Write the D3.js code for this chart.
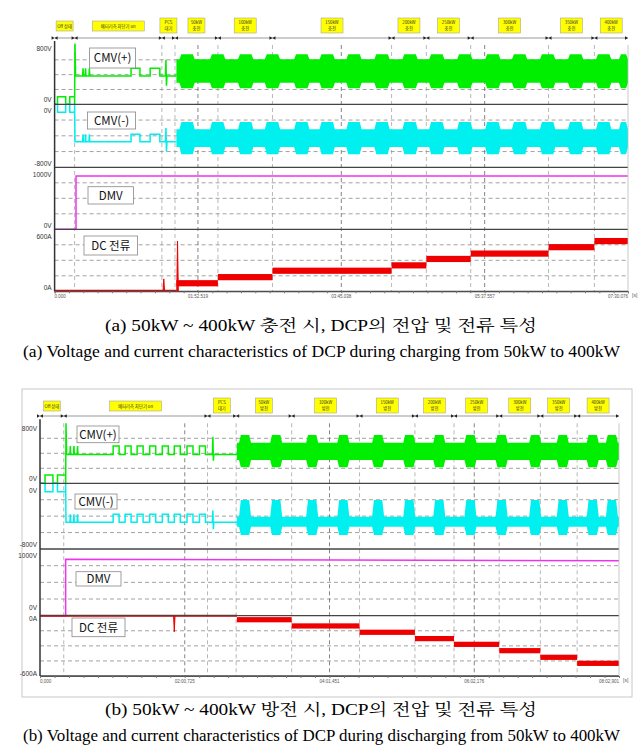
<!DOCTYPE html>
<html><head><meta charset="utf-8">
<script src="https://cdn.jsdelivr.net/npm/d3@7"></script>
<style>body{margin:0;background:#fff}svg{display:block}</style>
</head><body>
<script>
// ---------------- DATA ----------------
// Panel (a) charging
const aDuration = 450.076;
const aTickLabels = ["0.000","01:52.519","03:45.038","05:37.557","07:30.076"];
const aPhases = ["Off 상태","배터리측 차단기 on","PCS|대기","50kW|충전","100kW|충전","150kW|충전","200kW|충전","250kW|충전","300kW|충전","350kW|충전","400kW|충전"];
const aBounds = [15.7, 84.2, 94.5, 128.2, 171, 264.5, 291.8, 326.6, 387.7, 423.7];
const aCurrentLevels = [78,137,199,251,313,365,427,486];
const aBumps = [104,128,150,171,194,214,235,257,279,300,322,344,365,387,409,431,449];
const aBandStart = 95.6;
const aGreenEnv = [675,607,291,216];
const aCyanEnv = [-225,-317,-542,-635];
const aOffPulses = [[2.3,8.7],[11.9,15.7]];
const aSpikes = [22,24,27];
const aPulses = [[60,67],[75,82.6]];
const aOnTime = 15.7, aPcsTime = 87;
const aGreenLv = [103,382,486,820,600,250];
const aCyanLv = [-100,-474,-381,-474,-300,-600];
const aDmv = [[0,0],[16.8,0],[16.8,860],[450,860]];
const aCurSpikes = [[85.7,120],[96.5,486]];

// Panel (b) discharging
const bDuration = 482.901;
const bTickLabels = ["0,000","02:00,725","04:01,451","06:02,176","08:02,901"];
const bPhases = ["Off 상태","배터리측 차단기 on","PCS|대기","50kW|방전","100kW|방전","150kW|방전","200kW|방전","250kW|방전","300kW|방전","350kW|방전","400kW|방전"];
const bBounds = [19.8, 139.7, 163.6, 209.9, 266.5, 312.7, 345.3, 383, 417.3, 448];
const bCurrentLevels = [-40,-102,-165,-228,-285,-348,-414,-474];
const bBumps = [171,197,227,253,282,308,333,359,385,413,436,461,477];
const bBandStart = 164.2;
const bGreenEnv = [645,541,311,213];
const bCyanEnv = [-203,-407,-528,-630];
const bOffPulses = [[4.2,10.8],[14.6,21.4]];
const bSpikes = [25,28,31];
const bPulses = [[61,66],[71,76],[81,86],[91.5,96.5],[102,107],[112,117],[122.6,127.6],[133,138]];
const bOnTime = 21.4, bPcsTime = 143.8;
const bGreenLv = [111,385,497,800,620,300];
const bCyanLv = [-102,-475,-378,-475,-330,-560];
const bDmv = [[0,0],[21.4,0],[21.4,848],[482.9,823]];
const bCurSpikes = [[112,-160]];

// ---------------- DRAW ----------------
const W=641,H=754;
const svg=d3.select("body").append("svg").attr("width",W).attr("height",H);
const FONT="'Liberation Sans',Arial,sans-serif";

function preamble(offP,onT,spikes,pulses,pcsT,bandStart,lv){
  const p=[[0,0]];
  offP.forEach(([s,e])=>{p.push([s,0],[s,lv[0]],[e,lv[0]],[e,0]);});
  p.push([onT,0],[onT+0.3,lv[3]],[onT+0.8,lv[1]]);
  spikes.forEach(s=>{p.push([s,lv[1]],[s+0.3,lv[2]],[s+0.6,lv[1]]);});
  pulses.forEach(([s,e])=>{p.push([s,lv[1]],[s,lv[2]],[e,lv[2]],[e,lv[1]]);});
  p.push([pcsT,lv[1]],[pcsT+0.4,lv[4]],[pcsT+0.8,lv[5]],[pcsT+1.2,lv[1]],[bandStart,lv[1]]);
  return p;
}
function band(start,end,bumps,env,w){
  const pts=[];const r=1.5;
  pts.push({t:start,y1:env[1],y0:env[2]});
  bumps.forEach(c=>{
    const s=Math.max(start,c-w/2), e=Math.min(end,c+w/2);
    pts.push({t:s,y1:env[1],y0:env[2]},{t:s+r,y1:env[0],y0:env[3]},{t:e-r,y1:env[0],y0:env[3]},{t:Math.min(end,e),y1:env[1],y0:env[2]});
  });
  pts.push({t:end,y1:env[1],y0:env[2]});
  return pts.sort((a,b)=>a.t-b.t);
}

function drawPanel(c){
  const g=svg.append("g");
  const x=d3.scaleLinear().domain([0,c.dur]).range([c.x0,c.x1]);
  const yP=d3.scaleLinear().domain([0,800]).range([c.rows[1],c.rows[0]]);
  const yN=d3.scaleLinear().domain([0,-800]).range([c.rows[1],c.rows[2]]);
  const yD=d3.scaleLinear().domain([0,1000]).range([c.rows[3],c.rows[2]]);
  const yC=c.charge?d3.scaleLinear().domain([0,600]).range([c.rows[4],c.rows[3]])
                   :d3.scaleLinear().domain([0,-600]).range([c.rows[3],c.rows[4]]);
  for(let i=0;i<4;i++){
    const top=c.rows[i],bot=c.rows[i+1];
    for(let k=1;k<4;k++){const yy=top+(bot-top)*k/4;
      g.append("line").attr("x1",c.x0).attr("x2",c.x1).attr("y1",yy).attr("y2",yy)
       .attr("stroke","#8a8a8a").attr("stroke-width",0.8).attr("stroke-dasharray","4,3");}
  }
  const majors=d3.range(5).map(i=>c.dur*i/4);
  c.bounds.forEach(b=>g.append("line").attr("x1",x(b)).attr("x2",x(b)).attr("y1",c.rows[0]).attr("y2",c.rows[4])
     .attr("stroke","#9a9a9a").attr("stroke-width",0.7).attr("stroke-dasharray","4,3"));
  majors.slice(1,4).forEach(m=>g.append("line").attr("x1",x(m)).attr("x2",x(m)).attr("y1",c.rows[0]).attr("y2",c.rows[4])
     .attr("stroke","#666").attr("stroke-width",0.8).attr("stroke-dasharray","4,3"));
  const line=(ys)=>d3.line().x(d=>x(d[0])).y(d=>ys(d[1]));
  const area=(ys)=>d3.area().x(d=>x(d.t)).y0(d=>ys(d.y0)).y1(d=>ys(d.y1));
  g.append("path").attr("d",line(yP)(preamble(c.offP,c.onT,c.spikes,c.pulses,c.pcsT,c.bandStart,c.gLv)))
    .attr("fill","none").attr("stroke","#00ee00").attr("stroke-width",1.5);
  g.append("path").attr("d",area(yP)(band(c.bandStart,c.dur,c.bumps,c.gEnv,c.bw))).attr("fill","#00ee00");
  g.append("path").attr("d",line(yN)(preamble(c.offP,c.onT,c.spikes,c.pulses,c.pcsT,c.bandStart,c.cLv)))
    .attr("fill","none").attr("stroke","#00eeee").attr("stroke-width",1.5);
  g.append("path").attr("d",area(yN)(band(c.bandStart,c.dur,c.bumps,c.cEnv,c.bw))).attr("fill","#00f0f0");
  g.append("path").attr("d",line(yD)(c.dmv)).attr("fill","none").attr("stroke","#ee33ee").attr("stroke-width",1.5);
  const starts=[c.bandStart].concat(c.bounds.slice(3));
  const ends=c.bounds.slice(3).concat([c.dur]);
  g.append("path").attr("d",line(yC)([[0,c.charge?5:0],[c.bandStart,c.charge?5:0]])).attr("stroke","#ee0000").attr("stroke-width",2).attr("fill","none");
  c.curLv.forEach((v,i)=>{
    const th=c.charge?30:26;
    g.append("rect").attr("x",x(starts[i])).attr("width",x(ends[i])-x(starts[i]))
     .attr("y",Math.min(yC(v+th),yC(v-th))).attr("height",Math.abs(yC(v-th)-yC(v+th))).attr("fill","#ee0000");
  });
  c.curSp.forEach(([t,v])=>g.append("path").attr("d",line(yC)([[t-0.6,0],[t,v],[t+0.6,0]])).attr("stroke","#ee0000").attr("fill","#ee0000").attr("stroke-width",1));
  c.rows.forEach(r=>g.append("line").attr("x1",c.x0).attr("x2",c.x1).attr("y1",r).attr("y2",r)
    .attr("stroke","#444").attr("stroke-width",r===c.rows[0]?0:1.3));
  g.append("line").attr("x1",c.x0).attr("x2",c.x0).attr("y1",c.rows[0]-4).attr("y2",c.rows[4]).attr("stroke","#333").attr("stroke-width",1.5);
  g.append("line").attr("x1",c.x1).attr("x2",c.x1).attr("y1",c.rows[0]).attr("y2",c.rows[4]).attr("stroke","#bbb").attr("stroke-width",0.8);
  const ax=d3.axisBottom(x).tickValues(d3.range(41).map(i=>c.dur*i/40)).tickSize(2).tickFormat("");
  g.append("g").attr("transform",`translate(0,${c.rows[4]})`).call(ax).call(s=>{s.select(".domain").attr("stroke","#555");s.selectAll("line").attr("stroke","#777");});
  majors.forEach((m,i)=>g.append("text").attr("x",x(m)).attr("y",c.rows[4]+7)
     .attr("text-anchor",i===0?"start":i===4?"end":"middle").attr("font-size",4.5).attr("font-family",FONT).attr("fill","#555").text(c.ticks[i]));
  g.append("text").attr("x",c.x1+4).attr("y",c.rows[4]+6).attr("font-size",5).attr("font-family",FONT).attr("fill","#555").text("[s]");
  c.ylab.forEach(([t,yy])=>g.append("text").attr("x",c.x0-3).attr("y",yy).attr("text-anchor","end")
     .attr("font-size",6.5).attr("font-family",FONT).attr("fill","#333").text(t));
  const ay=c.barY;
  g.append("line").attr("x1",c.x0).attr("x2",c.x1).attr("y1",ay).attr("y2",ay).attr("stroke","#999").attr("stroke-width",1.2);
  [0].concat(c.bounds).forEach(b=>{g.append("path").attr("d",`M${x(b)-3},${ay-1.8}L${x(b)},${ay}L${x(b)-3},${ay+1.8}Z M${x(b)+3},${ay-1.8}L${x(b)},${ay}L${x(b)+3},${ay+1.8}Z`).attr("fill","#222");});
  g.append("path").attr("d",`M${c.x1-3},${ay-1.8}L${c.x1},${ay}L${c.x1-3},${ay+1.8}Z`).attr("fill","#222");
  const edges=[0].concat(c.bounds).concat([c.dur]);
  c.phases.forEach((p,i)=>{
    const cx=(x(edges[i])+x(edges[i+1]))/2;const lines=p.split("|");
    const w=i===1?52:(i===0?17:(lines[0].length>4?22:17));const h=lines.length>1?15:10;
    const y0=c.boxY+(lines.length>1?0:3);
    g.append("rect").attr("x",cx-w/2).attr("y",y0).attr("width",w).attr("height",h).attr("fill","#ffff00").attr("stroke","#999").attr("stroke-width",0.5);
    lines.forEach((l,k)=>g.append("text").attr("x",cx).attr("y",y0+(lines.length>1?6+k*6:6.5)).attr("text-anchor","middle")
      .attr("font-size",4.3).attr("font-family","'Noto Sans CJK KR',sans-serif").attr("fill","#333").text(l));
  });
  c.boxes.forEach(([t,x0,y0,x1,y1])=>{
    g.append("rect").attr("x",x0).attr("y",y0).attr("width",x1-x0).attr("height",y1-y0).attr("fill","#fff").attr("stroke","#888").attr("stroke-width",0.8);
    g.append("text").attr("x",(x0+x1)/2).attr("y",(y0+y1)/2+4.2).attr("text-anchor","middle").attr("font-size",11.5)
     .attr("font-family","'Noto Sans CJK KR',sans-serif").attr("fill","#111").text(t);
  });
  g.append("text").attr("x",105).attr("y",c.cap[0]).attr("font-size",16)
    .attr("textLength",432).attr("lengthAdjust","spacingAndGlyphs")
    .attr("font-family","'Liberation Serif','Noto Serif CJK KR','Noto Sans CJK KR',serif").text(c.cap[2]);
  g.append("text").attr("x",23).attr("y",c.cap[1]).attr("font-size",16)
    .attr("textLength",597).attr("lengthAdjust","spacingAndGlyphs")
    .attr("font-family","'Liberation Serif',serif").text(c.cap[3]);
}

svg.append("rect").attr("x",22).attr("y",389).attr("width",610).attr("height",308).attr("fill","none").attr("stroke","#c8c8c8");

drawPanel({dur:aDuration,x0:54.6,x1:628,rows:[45,104.3,167.3,229.3,291.3],charge:true,ticks:aTickLabels,
  phases:aPhases,bounds:aBounds,curLv:aCurrentLevels,bumps:aBumps,bandStart:aBandStart,bw:12,gEnv:aGreenEnv,cEnv:aCyanEnv,
  offP:aOffPulses,spikes:aSpikes,pulses:aPulses,onT:aOnTime,pcsT:aPcsTime,gLv:aGreenLv,cLv:aCyanLv,dmv:aDmv,curSp:aCurSpikes,
  barY:38,boxY:18,
  ylab:[["800V",51],["0V",102],["0V",113],["-800V",166],["1000V",177],["0V",228],["600A",239],["0A",290]],
  boxes:[["CMV(+)",89.6,48,135.6,68],["CMV(-)",87.5,112,135.6,129],["DMV",88,186.7,133.5,204],["DC 전류",84,236,137.6,255]],
  cap:[331,357,"(a) 50kW ~ 400kW 충전 시, DCP의 전압 및 전류 특성","(a) Voltage and current characteristics of DCP during charging from 50kW to 400kW"]});

drawPanel({dur:bDuration,x0:40,x1:619,rows:[423.3,483.3,549,615.7,676],charge:false,ticks:bTickLabels,
  phases:bPhases,bounds:bBounds,curLv:bCurrentLevels,bumps:bBumps,bandStart:bBandStart,bw:10,gEnv:bGreenEnv,cEnv:bCyanEnv,
  offP:bOffPulses,spikes:bSpikes,pulses:bPulses,onT:bOnTime,pcsT:bPcsTime,gLv:bGreenLv,cLv:bCyanLv,dmv:bDmv,curSp:bCurSpikes,
  barY:416,boxY:398,
  ylab:[["800V",431],["0V",481],["0V",493],["-800V",547],["1000V",558],["0V",610],["0A",621],["-600A",676]],
  boxes:[["CMV(+)",77,426,119,442.7],["CMV(-)",75,494,117,509],["DMV",76,571.7,121,586],["DC 전류",72,618,125,636.7]],
  cap:[715,741,"(b) 50kW ~ 400kW 방전 시, DCP의 전압 및 전류 특성","(b) Voltage and current characteristics of DCP during discharging from 50kW to 400kW"]});
</script>
</body></html>
